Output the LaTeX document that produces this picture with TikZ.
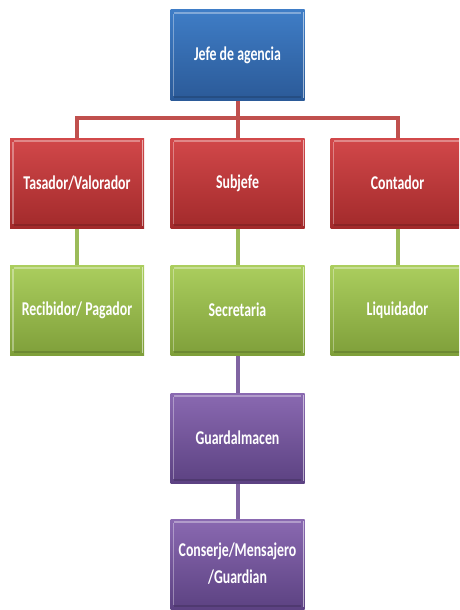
\documentclass[tikz,border=0pt]{standalone}
\usepackage{fontspec}
\setmainfont{Carlito}
\newfontfamily\boxfont[FakeStretch=0.71]{Carlito}
\usetikzlibrary{backgrounds}
\definecolor{bluetop}{HTML}{3F7DC6}
\definecolor{bluebot}{HTML}{2B5A98}
\definecolor{redtop}{HTML}{D2484A}
\definecolor{redbot}{HTML}{A22A2B}
\definecolor{greentop}{HTML}{ABCE5E}
\definecolor{greenbot}{HTML}{7F9F3A}
\definecolor{purptop}{HTML}{8A69B1}
\definecolor{purpbot}{HTML}{5C4282}
\definecolor{redln}{HTML}{C0504D}
\definecolor{greenln}{HTML}{9BBB59}
\definecolor{purpln}{HTML}{8064A2}
\tikzset{
  orgbox/.style={minimum width=134pt, minimum height=90pt, inner sep=0pt,
    text=white, align=center, font=\boxfont\bfseries\fontsize{19.5}{27}\selectfont},
  bluebox/.style={orgbox, top color=bluetop, bottom color=bluebot},
  redbox/.style={orgbox, top color=redtop, bottom color=redbot},
  greenbox/.style={orgbox, top color=greentop, bottom color=greenbot},
  purpbox/.style={orgbox, top color=purptop, bottom color=purpbot},
  conn/.style={line width=4pt},
  hilite/.style={white, opacity=0.35, line width=1.6pt},
  shade/.style={black, opacity=0.15, line width=1.6pt},
  rim/.style={white, opacity=0.55, line width=1pt}
}
\begin{document}
\begin{tikzpicture}[x=1pt,y=-1pt]
\useasboundingbox (0,0) rectangle (459,610);
\clip (0,0) rectangle (459,610);
\node[bluebox] (jefe) at (237.5,55) {Jefe de agencia};
\node[redbox] (tas) at (77,183) {Tasador/Valorador};
\node[redbox] (sub) at (237.5,183) {Subjefe};
\node[redbox] (cont) at (397.5,183) {Contador};
\node[greenbox] (rec) at (77,310) {Recibidor/ Pagador};
\node[greenbox] (sec) at (237.5,310) {Secretaria};
\node[greenbox] (liq) at (397.5,310) {Liquidador};
\node[purpbox] (gua) at (237.5,438) {Guardalmacen};
\node[purpbox] (con) at (237.5,564) {Conserje/Mensajero\\/Guardian};
\coordinate (bus) at (237.5,118);
\foreach \n in {jefe,tas,sub,cont,rec,sec,liq,gua,con}{
  \draw[hilite] ([xshift=4pt,yshift=-3pt]\n.north west) -- ([xshift=-4pt,yshift=-3pt]\n.north east);
  \draw[hilite] ([xshift=3pt,yshift=-4pt]\n.north west) -- ([xshift=3pt,yshift=4pt]\n.south west);
  \draw[shade] ([xshift=4pt,yshift=3pt]\n.south west) -- ([xshift=-4pt,yshift=3pt]\n.south east);
  \draw[rim] ([xshift=-1.5pt,yshift=-2pt]\n.north east) -- ([xshift=-1.5pt,yshift=2pt]\n.south east);
}
\begin{pgfonlayer}{background}
\draw[conn, redln] (jefe.south) -- (sub.north);
\draw[conn, redln] (tas.north) |- (bus) -| (cont.north);
\draw[conn, greenln] (tas.south) -- (rec.north);
\draw[conn, greenln] (sub.south) -- (sec.north);
\draw[conn, greenln] (cont.south) -- (liq.north);
\draw[conn, purpln] (sec.south) -- (gua.north);
\draw[conn, purpln] (gua.south) -- (con.north);
\end{pgfonlayer}
\end{tikzpicture}
\end{document}
